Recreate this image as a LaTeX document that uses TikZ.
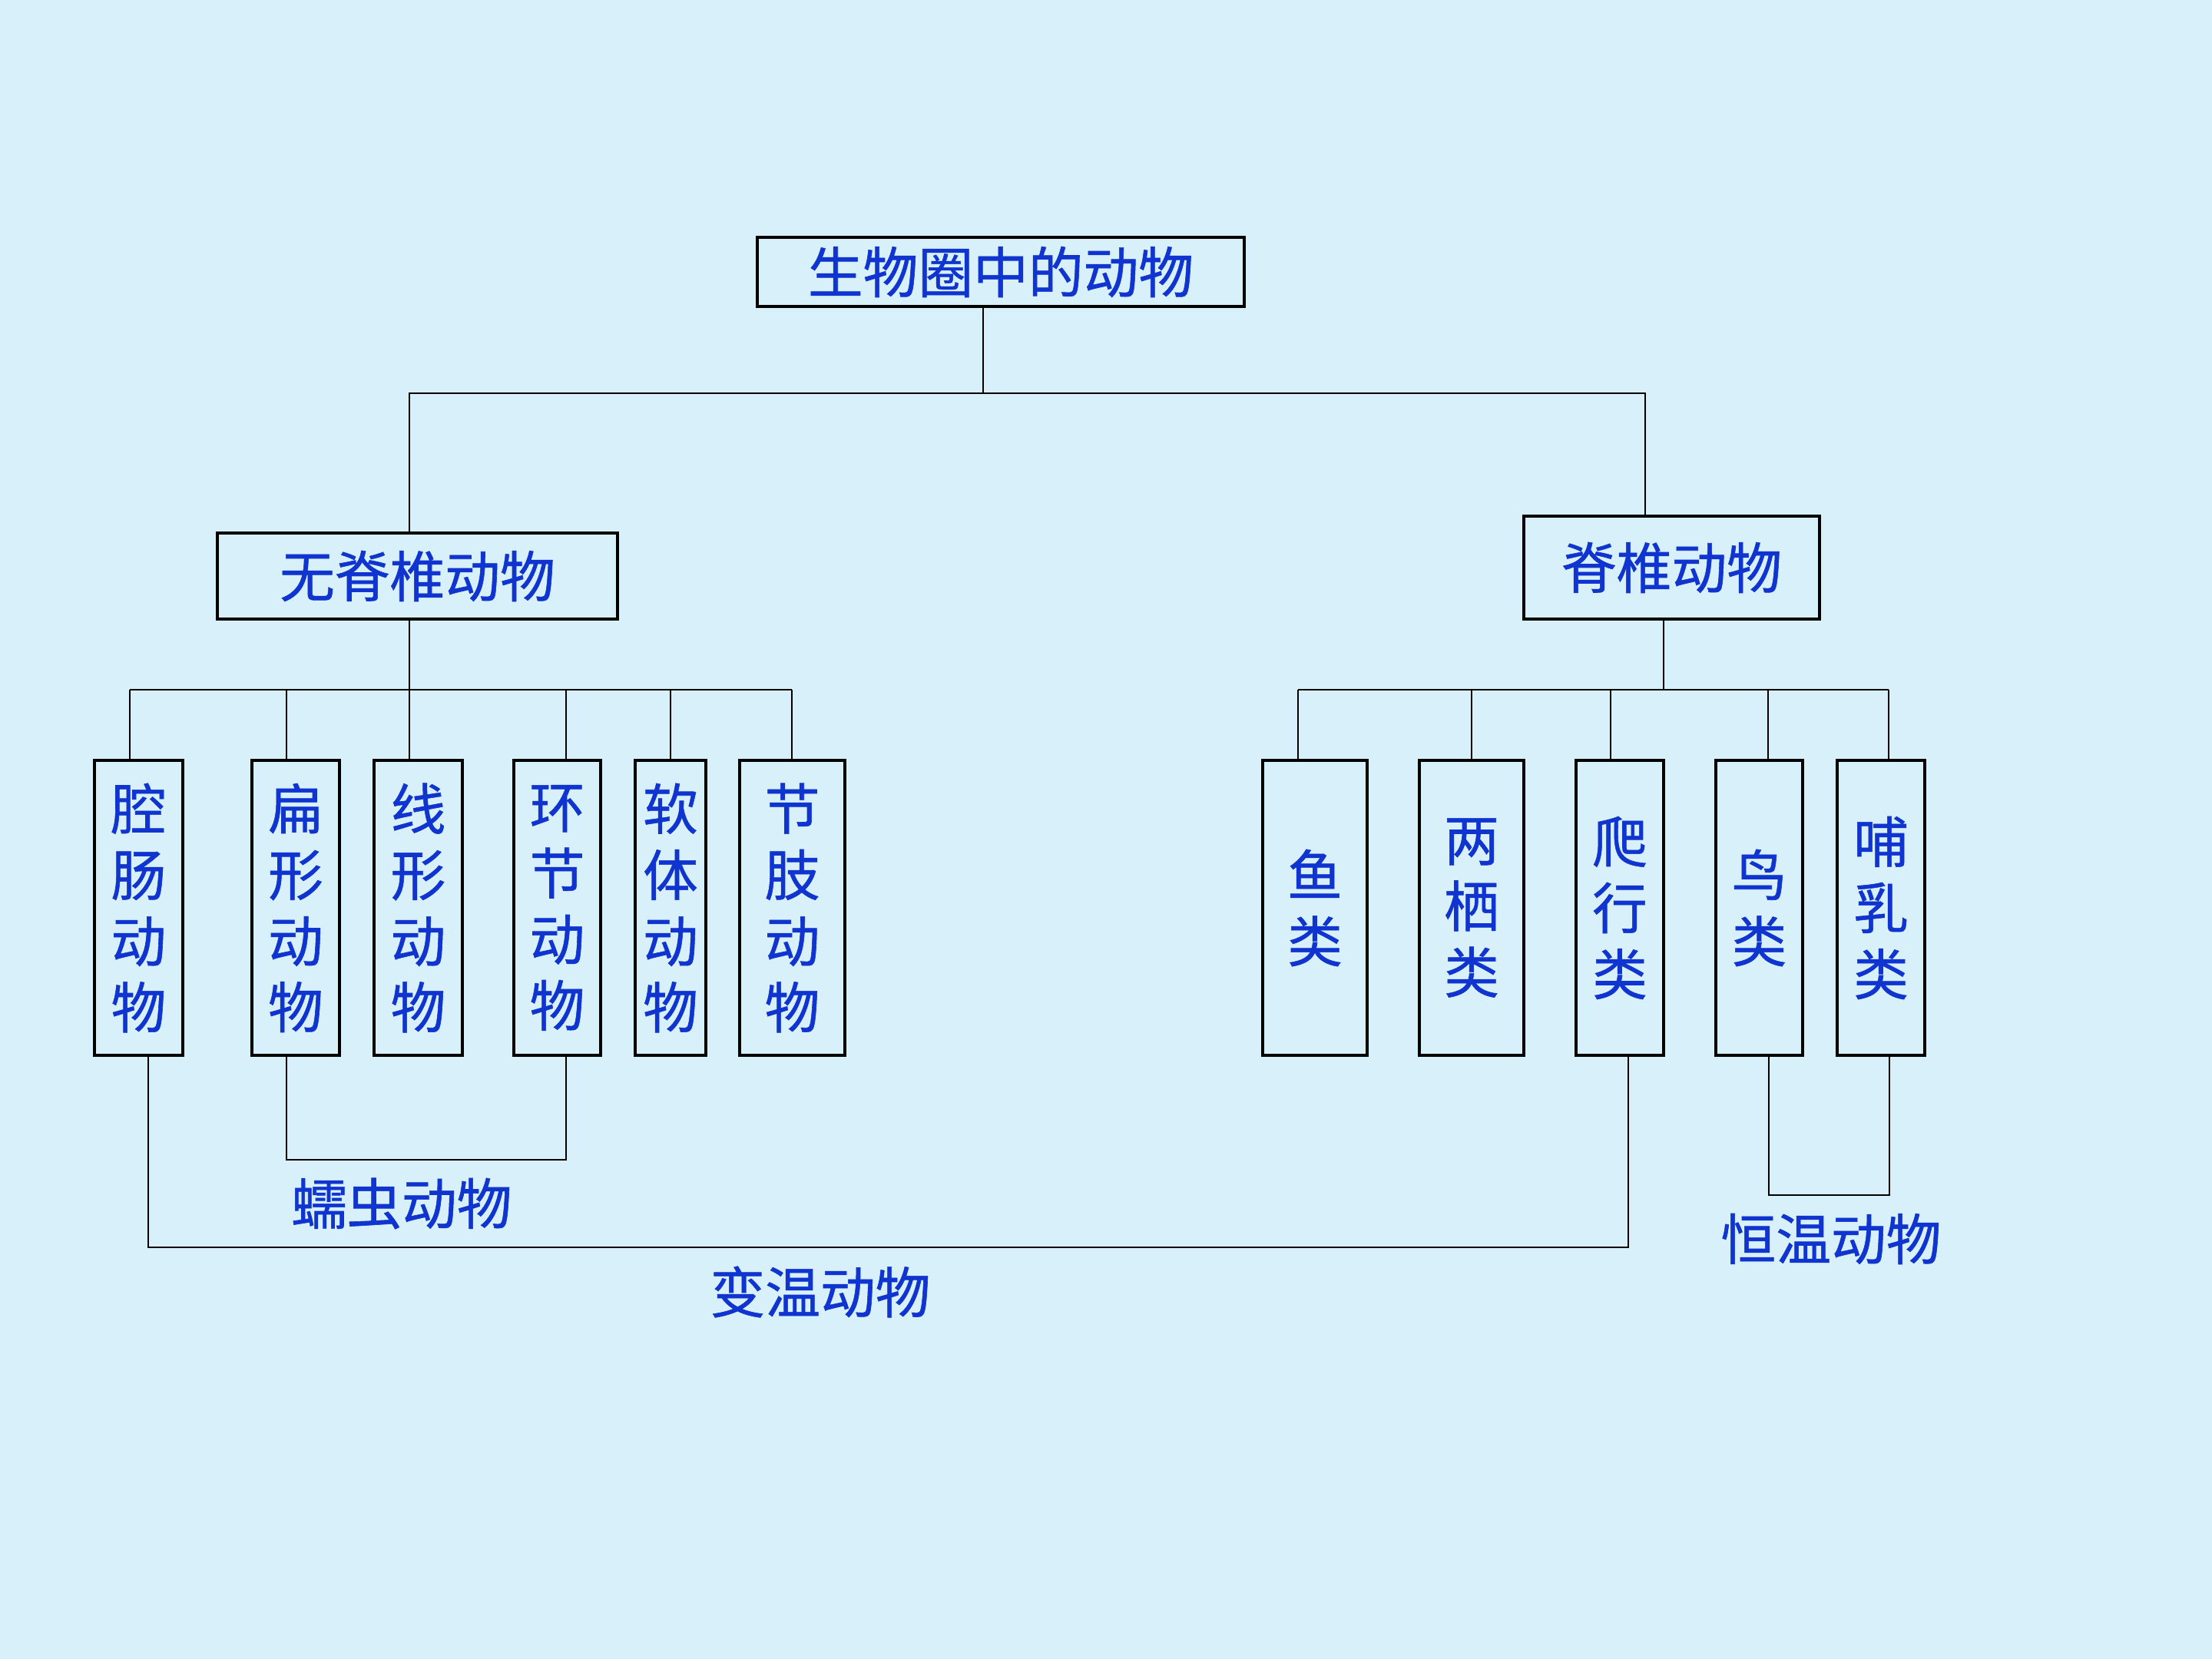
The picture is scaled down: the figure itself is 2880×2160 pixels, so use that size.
\documentclass[tikz,border=0pt]{standalone}
\usepackage{fontspec}
\newfontfamily\cjk[FakeBold=0.8]{Noto Sans CJK SC}
\definecolor{bgc}{RGB}{216,240,249}
\definecolor{tblue}{RGB}{16,52,208}
\tikzset{
  txt/.style={font=\cjk\fontsize{20.4}{24.5}\selectfont, text=tblue, align=center},
  bx/.style={txt, draw=black, line width=1.1pt, inner sep=0pt, rectangle},
  ln/.style={draw=black, line width=0.8pt}
}
\begin{document}
\begin{tikzpicture}[x=0.01cm,y=-0.01cm]
\fill[bgc] (0,0) rectangle (2880,2160);
\useasboundingbox (0,0) rectangle (2880,2160);
% boxes
\node[bx, minimum width=6.34cm, minimum height=0.90cm] (title) at (1303,354) {生物圈中的动物};
\node[bx, minimum width=5.21cm, minimum height=1.12cm] (inv) at (543.5,750) {无脊椎动物};
\node[bx, minimum width=3.85cm, minimum height=1.34cm] (vert) at (2176.5,739) {脊椎动物};
% left children
\node[bx, minimum width=1.15cm, minimum height=3.84cm] (c1) at (180.5,1182) {腔\\肠\\动\\物};
\node[bx, minimum width=1.14cm, minimum height=3.84cm] (c2) at (385,1182) {扁\\形\\动\\物};
\node[bx, minimum width=1.15cm, minimum height=3.84cm] (c3) at (544.5,1182) {线\\形\\动\\物};
\node[bx, minimum width=1.13cm, minimum height=3.84cm] (c4) at (725.5,1182) {环\\节\\动\\物};
\node[bx, minimum width=0.92cm, minimum height=3.84cm] (c5) at (873,1182) {软\\体\\动\\物};
\node[bx, minimum width=1.37cm, minimum height=3.84cm] (c6) at (1031.5,1182) {节\\肢\\动\\物};
% right children
\node[bx, minimum width=1.36cm, minimum height=3.84cm] (r1) at (1712,1182) {鱼\\类};
\node[bx, minimum width=1.36cm, minimum height=3.84cm] (r2) at (1916,1182) {两\\栖\\类};
\node[bx, minimum width=1.14cm, minimum height=3.84cm] (r3) at (2109,1182) {爬\\行\\类};
\node[bx, minimum width=1.13cm, minimum height=3.84cm] (r4) at (2290.5,1182) {鸟\\类};
\node[bx, minimum width=1.14cm, minimum height=3.84cm] (r5) at (2449,1182) {哺\\乳\\类};
% labels
\node[txt] (lw) at (523,1567) {蠕虫动物};
\node[txt] (lb) at (1068,1682) {变温动物};
\node[txt] (lh) at (2384,1613) {恒温动物};
% junction coordinates
\coordinate (jT) at (1280,512);
\coordinate (jL) at (533,512);
\coordinate (jR) at (2142,512);
\coordinate (bL) at (533,898);
\coordinate (bR) at (2166,898);
\coordinate (a1) at (169,898);
\coordinate (a2) at (373,898);
\coordinate (a4) at (737,898);
\coordinate (a5) at (873,898);
\coordinate (a6) at (1031,898);
\coordinate (e1) at (1690,898);
\coordinate (e2) at (1916,898);
\coordinate (e3) at (2097,898);
\coordinate (e4) at (2302,898);
\coordinate (e5) at (2459,898);
% top level
\draw[ln] (jT |- title.south) -- (jT);
\draw[ln] (jL |- inv.north) -- (jL) -- (jR) -- (jR |- vert.north);
% left bus
\draw[ln] (bL |- inv.south) -- (bL);
\draw[ln] (a1) -- (a6);
\draw[ln] (a1) -- (a1 |- c1.north);
\draw[ln] (a2) -- (a2 |- c2.north);
\draw[ln] (bL) -- (bL |- c3.north);
\draw[ln] (a4) -- (a4 |- c4.north);
\draw[ln] (a5) -- (a5 |- c5.north);
\draw[ln] (a6) -- (a6 |- c6.north);
% right bus
\draw[ln] (bR |- vert.south) -- (bR);
\draw[ln] (e1) -- (e5);
\draw[ln] (e1) -- (e1 |- r1.north);
\draw[ln] (e2) -- (e2 |- r2.north);
\draw[ln] (e3) -- (e3 |- r3.north);
\draw[ln] (e4) -- (e4 |- r4.north);
\draw[ln] (e5) -- (e5 |- r5.north);
% bottom brackets
\coordinate (w1) at (373,1510);
\coordinate (w2) at (737,1510);
\draw[ln] (w1 |- c2.south) -- (w1) -- (w2) -- (w2 |- c4.south);
\coordinate (v1) at (193,1624);
\coordinate (v2) at (2120,1624);
\draw[ln] (v1 |- c1.south) -- (v1) -- (v2) -- (v2 |- r3.south);
\coordinate (h1) at (2303,1556);
\coordinate (h2) at (2460,1556);
\draw[ln] (h1 |- r4.south) -- (h1) -- (h2) -- (h2 |- r5.south);
\end{tikzpicture}
\end{document}
